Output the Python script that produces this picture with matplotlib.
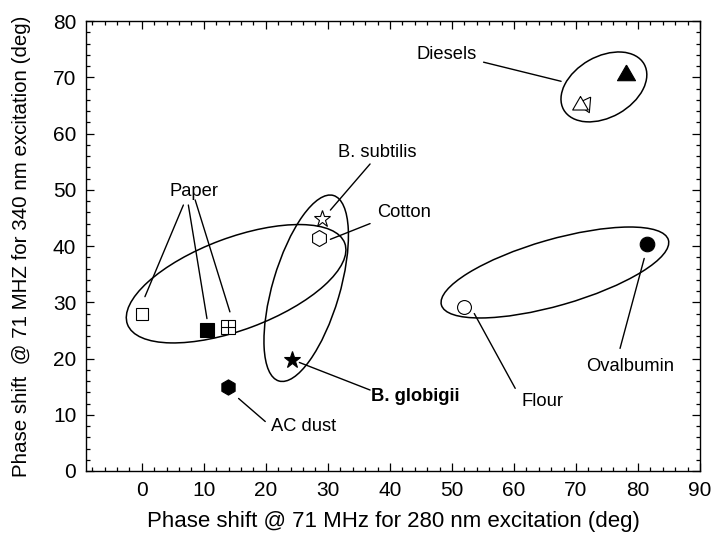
import matplotlib
matplotlib.use('Agg')
import matplotlib.pyplot as plt
import numpy as np
from matplotlib.patches import Ellipse
from matplotlib.markers import MarkerStyle
from matplotlib.ticker import MultipleLocator
import matplotlib.transforms as mtransforms

plt.rcParams['font.family'] = ['Liberation Sans', 'DejaVu Sans']

# samples: (x phase @280 nm, y phase @340 nm)
paper_open = (0.0, 28.0)
paper_filled = (10.5, 25.1)
paper_cross = (13.9, 25.6)
ac_dust = (13.9, 14.9)
b_globigii = (24.2, 19.7)
b_subtilis = (29.0, 44.9)
cotton = (28.5, 41.4)
flour = (52.0, 29.2)
ovalbumin = (81.4, 40.4)
diesel_filled = (78.0, 70.5)
diesel_open_x = [70.7, 71.5]
diesel_open_y = [65.0, 65.2]

# group ellipses: centre (data), semi-axes (pt), angle (deg)
groups = [
    ((15.2, 33.3), 83.5, 33.1, 20.5),
    ((26.5, 32.5), 69.6, 24.2, 73.6),
    ((74.5, 68.3), 33.3, 21.9, 29.6),
    ((66.6, 35.3), 85.0, 23.8, 16.0),
]

# labels: text, position, bold
labels = [
    ('Diesels', (49.2, 74.1), False),
    ('B. subtilis', (38.0, 56.7), False),
    ('Cotton', (42.3, 45.9), False),
    ('Paper', (8.4, 49.7), False),
    ('AC dust', (26.0, 7.9), False),
    ('B. globigii', (44.1, 13.2), True),
    ('Flour', (64.6, 12.4), False),
    ('Ovalbumin', (78.7, 18.5), False),
]

# leader lines: (from, to)
leaders = [
    ((55.1, 72.7), (67.6, 69.3)),
    ((36.8, 54.6), (30.4, 46.4)),
    ((36.8, 44.0), (30.4, 41.2)),
    ((6.7, 47.3), (0.5, 31.0)),
    ((7.5, 47.3), (10.5, 27.1)),
    ((8.6, 48.2), (14.2, 28.3)),
    ((15.6, 12.9), (19.9, 8.8)),
    ((25.4, 19.3), (36.8, 14.4)),
    ((53.6, 28.0), (60.2, 14.7)),
    ((81.0, 37.8), (77.1, 21.8)),
]

fig = plt.figure(figsize=(7.12, 5.42), dpi=100)
ax = fig.add_axes([0.1208, 0.131, 0.8624, 0.830])

ew = 0.8
tri = [(0, 1), (-0.866, -0.5), (0.866, -0.5), (0, 1)]

ax.plot(*paper_open, 's', ms=9, mfc='white', mec='black', mew=ew)
ax.plot(*paper_filled, 's', ms=9.5, mfc='black', mec='black', mew=ew)
ax.plot(*paper_cross, 's', ms=9.5, mfc='white', mec='black', mew=ew)
ax.plot(*paper_cross, '+', ms=9.5, mec='black', mew=ew)
ax.plot(*ac_dust, 'h', ms=11, mfc='black', mec='black', mew=ew)
ax.plot(*b_globigii, '*', ms=12.5, mfc='black', mec='black', mew=ew)
ax.plot(*b_subtilis, '*', ms=12.5, mfc='white', mec='black', mew=ew)
ax.plot(*cotton, 'h', ms=11.5, mfc='white', mec='black', mew=ew)
ax.plot(*flour, 'o', ms=10, mfc='white', mec='black', mew=ew)
ax.plot(*ovalbumin, 'o', ms=10.5, mfc='black', mec='black', mew=ew)
ax.plot(*diesel_filled, marker=tri, ms=15, mfc='black', mec='black', mew=ew, ls='none')
rot = MarkerStyle(tri, transform=mtransforms.Affine2D().rotate_deg(-35))
ax.plot(diesel_open_x[1], diesel_open_y[1], marker=rot, ms=13, mfc='white', mec='black', mew=ew, ls='none')
ax.plot(diesel_open_x[0], diesel_open_y[0], marker=tri, ms=13, mfc='white', mec='black', mew=ew, ls='none')

for (cx, cy), a, b, ang in groups:
    tr = (mtransforms.Affine2D().scale(1 / 72.0) + fig.dpi_scale_trans
          + mtransforms.ScaledTranslation(cx, cy, ax.transData))
    ax.add_patch(Ellipse((0, 0), 2 * a, 2 * b, angle=ang, transform=tr,
                         fill=False, ec='black', lw=1.1))

for p0, p1 in leaders:
    ax.annotate('', xy=p1, xytext=p0,
                arrowprops=dict(arrowstyle='-', color='black', lw=1.0,
                                shrinkA=0, shrinkB=0))

for txt, (tx, ty), bold in labels:
    ax.text(tx, ty, txt, fontsize=13.2, ha='center', va='center',
            fontweight='bold' if bold else 'normal')

ax.set_xlim(-9, 90)
ax.set_ylim(0, 80)
ax.xaxis.set_major_locator(MultipleLocator(10))
ax.xaxis.set_minor_locator(MultipleLocator(2))
ax.yaxis.set_major_locator(MultipleLocator(10))
ax.yaxis.set_minor_locator(MultipleLocator(2))
ax.tick_params(which='both', direction='in', top=True, right=True, width=0.9)
ax.tick_params(which='major', length=5.5, labelsize=15, pad=7)
ax.tick_params(which='minor', length=3)
for s in ax.spines.values():
    s.set_linewidth(1.0)

ax.set_xlabel('Phase shift @ 71 MHz for 280 nm excitation (deg)', fontsize=16, labelpad=8)
ax.set_ylabel('Phase shift  @ 71 MHZ for 340 nm excitation (deg)', fontsize=14.8, labelpad=16)

fig.savefig('out.png', dpi=100)
